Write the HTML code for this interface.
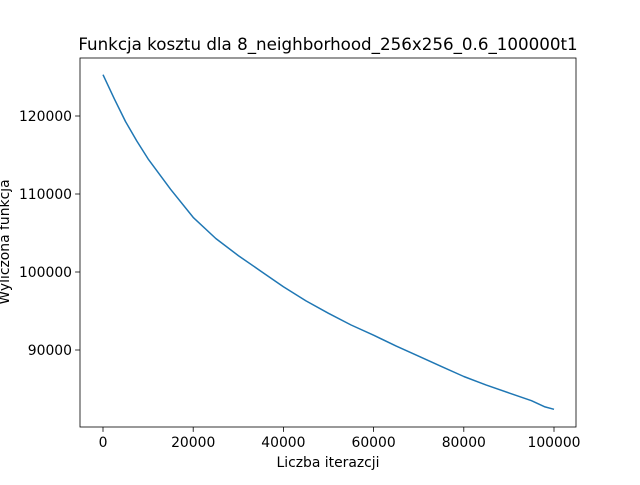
<!DOCTYPE html>
<html><head><meta charset="utf-8"><style>
body{margin:0;background:#fff;}
svg text{font-family:"DejaVu Sans","Liberation Sans",sans-serif;fill:#000;}
</style></head><body>
<svg id="chart" width="640" height="480">
<rect x="0" y="0" width="640" height="480" fill="#fff"/>
</svg>
<script>
const iterations=[0,2500,5000,7500,10000,15000,20000,25000,30000,35000,40000,45000,50000,55000,60000,65000,70000,75000,80000,85000,90000,95000,98000,100000];
const costValues=[125300,122200,119300,116800,114500,110600,107000,104300,102100,100100,98100,96300,94700,93200,91900,90500,89200,87900,86600,85500,84500,83500,82700,82400];
const xTicks=[0,20000,40000,60000,80000,100000];
const yTicks=[90000,100000,110000,120000];
const svg=document.getElementById('chart');
const NS='http://www.w3.org/2000/svg';
const L=80,R=576,T=58,B=427;
function xs(v){return 103+(v/100000)*(554-103);}
function ys(v){return 272-(v-100000)*0.0078;}
function mk(tag,attrs,parent){const e=document.createElementNS(NS,tag);for(const k in attrs)e.setAttribute(k,attrs[k]);(parent||svg).appendChild(e);return e;}
let d=iterations.map((v,i)=>(i?'L':'M')+xs(v).toFixed(1)+','+ys(costValues[i]).toFixed(1)).join(' ');
const line=mk('path',{d:d,fill:'none',stroke:'#1f77b4','stroke-width':1.5,'stroke-linejoin':'round'});


const frame=mk('rect',{x:L,y:T,width:R-L,height:B-T,fill:'none',stroke:'#000','stroke-width':0.8});


xTicks.forEach(v=>{const x=xs(v);
 mk('line',{x1:x,x2:x,y1:B,y2:B+4.9,stroke:'#000','stroke-width':0.8});
 const t=mk('text',{x:x,y:B+20,'text-anchor':'middle','font-size':13.9});t.textContent=String(v);
 
 
});
yTicks.forEach(v=>{const y=ys(v);
 mk('line',{x1:L,x2:L-4.9,y1:y,y2:y,stroke:'#000','stroke-width':0.8});
 const t=mk('text',{x:L-8,y:y+5,'text-anchor':'end','font-size':13.9});t.textContent=String(v);
 
 
});
const title=mk('text',{x:328,y:50,'text-anchor':'middle','font-size':16.7});title.textContent='Funkcja kosztu dla 8_neighborhood_256x256_0.6_100000t1';


const xl=mk('text',{x:328,y:467,'text-anchor':'middle','font-size':13.9});xl.textContent='Liczba iterazcji';


const yl=mk('text',{x:0,y:0,'text-anchor':'middle','font-size':13.9,transform:'translate(9,242) rotate(-90)'});yl.textContent='Wyliczona funkcja';


</script>
</body></html>
